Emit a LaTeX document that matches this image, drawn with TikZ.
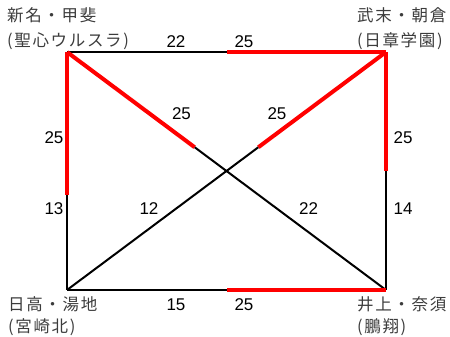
\documentclass[tikz,border=0pt]{standalone}
\usepackage{fontspec}
\setmainfont{Liberation Sans}
\newfontfamily\jpfont[LetterSpace=10]{Noto Sans CJK JP}
\usetikzlibrary{calc, backgrounds}
\definecolor{winRed}{RGB}{255,0,0}
\definecolor{teamGray}{RGB}{60,60,60}
\tikzset{
  every node/.style={font=\fontsize{17}{20}\selectfont},
  PT/.style={inner sep=0pt, minimum size=0pt},
  SC/.style={inner sep=0pt},
  TEAM/.style={font=\jpfont\fontsize{16.5}{25}\selectfont, text=teamGray, align=left, anchor=west, inner sep=0pt},
  LOSS/.style={black, line width=2pt},
  WIN/.style={winRed, line width=4pt},
}
% #1 = winner (red end), #2 = other end, #3 = split fraction
\newcommand{\game}[3]{%
  \coordinate (#1-#2) at ($(#1)!#3!(#2)$);
  \begin{scope}[on background layer]\draw[LOSS] (#1-#2) -- (#2);\end{scope}
  \draw[WIN] (#1) -- (#1-#2);}

\begin{document}
\begin{tikzpicture}[x=1pt, y=1pt, yscale=-1]

\useasboundingbox (0,0) rectangle (450,337);

%% Teams
\node[PT] (SEI) at (67,52) {};
\node[PT] (NIC) at (386,52) {};
\node[PT] (MYK) at (67,290) {};
\node[PT] (HOS) at (386,290) {};

\node[TEAM] (tSEI) at (7,29) {新名・甲斐\\(聖心ウルスラ)};
\node[TEAM] (tNIC) at (357,29) {武末・朝倉\\(日章学園)};
\node[TEAM, font=\jpfont\fontsize{16.5}{22}\selectfont] (tMYK) at (8,316) {日高・湯地\\(宮崎北)};
\node[TEAM, font=\jpfont\fontsize{16.5}{22}\selectfont] (tHOS) at (357,316) {井上・奈須\\(鵬翔)};

%% Matches
\game{NIC}{SEI}{0.5}
\game{SEI}{MYK}{0.6}
\game{NIC}{HOS}{0.5}
\game{HOS}{MYK}{0.5}
\game{SEI}{HOS}{0.4}
\game{NIC}{MYK}{0.4}

%% Scores
\node[SC] (s1a) at (176,41.5) {22};
\node[SC] (s1b) at (244,41.5) {25};
\node[SC] (s2a) at (54,137.5) {25};
\node[SC] (s2b) at (54,208.5) {13};
\node[SC] (s3a) at (403,137.5) {25};
\node[SC] (s3b) at (403,208.5) {14};
\node[SC] (s4a) at (176,305) {15};
\node[SC] (s4b) at (244,305) {25};
\node[SC] (s5a) at (181.5,114) {25};
\node[SC] (s5b) at (308.5,208.5) {22};
\node[SC] (s6a) at (277,114) {25};
\node[SC] (s6b) at (149,208.5) {12};

\end{tikzpicture}
\end{document}
